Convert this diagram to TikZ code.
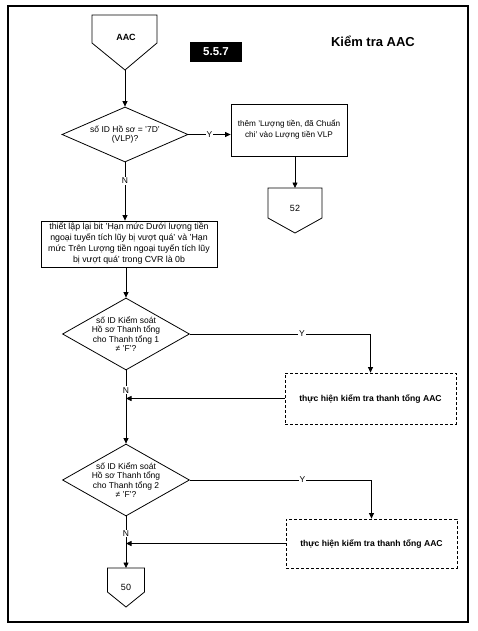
\documentclass[tikz,border=0pt]{standalone}
\usepackage{fontspec}
\setmainfont{Liberation Sans}
\usetikzlibrary{shapes.geometric,arrows.meta}
\begin{document}
\begin{tikzpicture}[x=1pt,y=-1pt,
  ln/.style={line width=0.8pt},
  arr/.style={line width=0.8pt,-{Triangle[length=5.5pt,width=5pt]}},
  txt/.style={font=\fontsize{8.5}{9.6}\selectfont, align=center, inner sep=0pt},
  btxt/.style={font=\bfseries\fontsize{9}{10}\selectfont, align=center, inner sep=0pt},
  proc/.style={draw, line width=0.8pt, font=\fontsize{8.8}{11}\selectfont, align=center, inner sep=1pt},
  dproc/.style={proc, dash pattern=on 3pt off 2pt, font=\bfseries\fontsize{8.6}{11}\selectfont},
  dia/.style={draw, diamond, line width=0.8pt, inner sep=0pt},
  lbl/.style={fill=white, inner sep=1pt, font=\fontsize{8.5}{9}\selectfont}]
\useasboundingbox (0,0) rectangle (477,631);
% frame
\draw[line width=1.1pt] (8,6) rectangle (468,622);
% title and section number
\node[font=\bfseries\fontsize{13}{15}\selectfont] (title) at (373,41) {Kiểm tra AAC};
\node[fill=black, text=white, font=\bfseries\fontsize{11.5}{12}\selectfont, minimum width=52pt, minimum height=20pt, inner sep=0pt] (sec) at (216,52) {5.5.7};
% start connector AAC
\draw[ln] (92,15) -- (157,15) -- (157,43) -- (125,70) -- (92,43) -- cycle;
\coordinate (s) at (125,70);
\node[btxt] (st) at (126,37) {AAC};
% decision 1
\node[dia, minimum width=126pt, minimum height=55pt] (d1) at (125,134.5) {};
\node[txt] (d1t) at (d1) {số ID Hồ sơ = '7D'\\(VLP)?};
\node[proc, font=\fontsize{8.2}{11}\selectfont, minimum width=116pt, minimum height=52pt] (b1) at (289,130) {thêm 'Lượng tiền, đã Chuẩn\\chi' vào Lượng tiền VLP};
% connector 52
\draw[ln] (268,188) -- (322,188) -- (322,218) -- (295,233) -- (268,218) -- cycle;
\coordinate (p52) at (295,188);
\node[txt, font=\fontsize{9}{10}\selectfont] (t52) at (295,208) {52};
% process
\node[proc, minimum width=176pt, minimum height=46pt] (r1) at (129,244) {thiết lập lại bit 'Hạn mức Dưới lượng tiền\\ngoại tuyến tích lũy bị vượt quá' và 'Hạn\\mức Trên Lượng tiền ngoại tuyến tích lũy\\bị vượt quá' trong CVR là 0b};
% decision 2
\node[dia, minimum width=127pt, minimum height=72pt] (d2) at (126,334) {};
\node[txt] (d2t) at (d2) {số ID Kiểm soát\\Hồ sơ Thanh tổng\\cho Thanh tổng 1\\≠ 'F'?};
\node[dproc, minimum width=171pt, minimum height=51pt] (b2) at (370.5,398.5) {thực hiện kiểm tra thanh tổng AAC};
% decision 3
\node[dia, minimum width=127pt, minimum height=72pt] (d3) at (126,480) {};
\node[txt] (d3t) at (d3) {số ID Kiểm soát\\Hồ sơ Thanh tổng\\cho Thanh tổng 2\\≠ 'F'?};
\node[dproc, minimum width=171pt, minimum height=49pt] (b3) at (371.5,543.5) {thực hiện kiểm tra thanh tổng AAC};
% end connector 50
\draw[ln] (107.5,568) -- (144.5,568) -- (144.5,592) -- (126,607) -- (107.5,592) -- cycle;
\coordinate (p50) at (126,568);
\node[txt, font=\fontsize{9}{10}\selectfont] (t50) at (126,587) {50};
% connectors
\draw[arr] (s) -- (d1.north);
\draw[arr] (d1.east) -- node[lbl]{Y} (d1.east -| b1.west);
\draw[arr] (b1.south -| p52) -- (p52);
\draw[arr] (d1.south) -- node[lbl, pos=0.32]{N} (d1.south |- r1.north);
\draw[arr] (d2.north |- r1.south) -- (d2.north);
\draw[arr] (d2.east) -| node[lbl, pos=0.31]{Y} (b2.north);
\draw[arr] (b2.west) -- (b2.west -| d2.south);
\draw[arr] (d2.south) -- node[lbl, pos=0.27]{N} (d3.north);
\draw[arr] (d3.east) -| node[lbl, pos=0.31]{Y} (b3.north);
\draw[arr] (b3.west) -- (b3.west -| d3.south);
\draw[arr] (d3.south) -- node[lbl, pos=0.33]{N} (p50);
\end{tikzpicture}
\end{document}
